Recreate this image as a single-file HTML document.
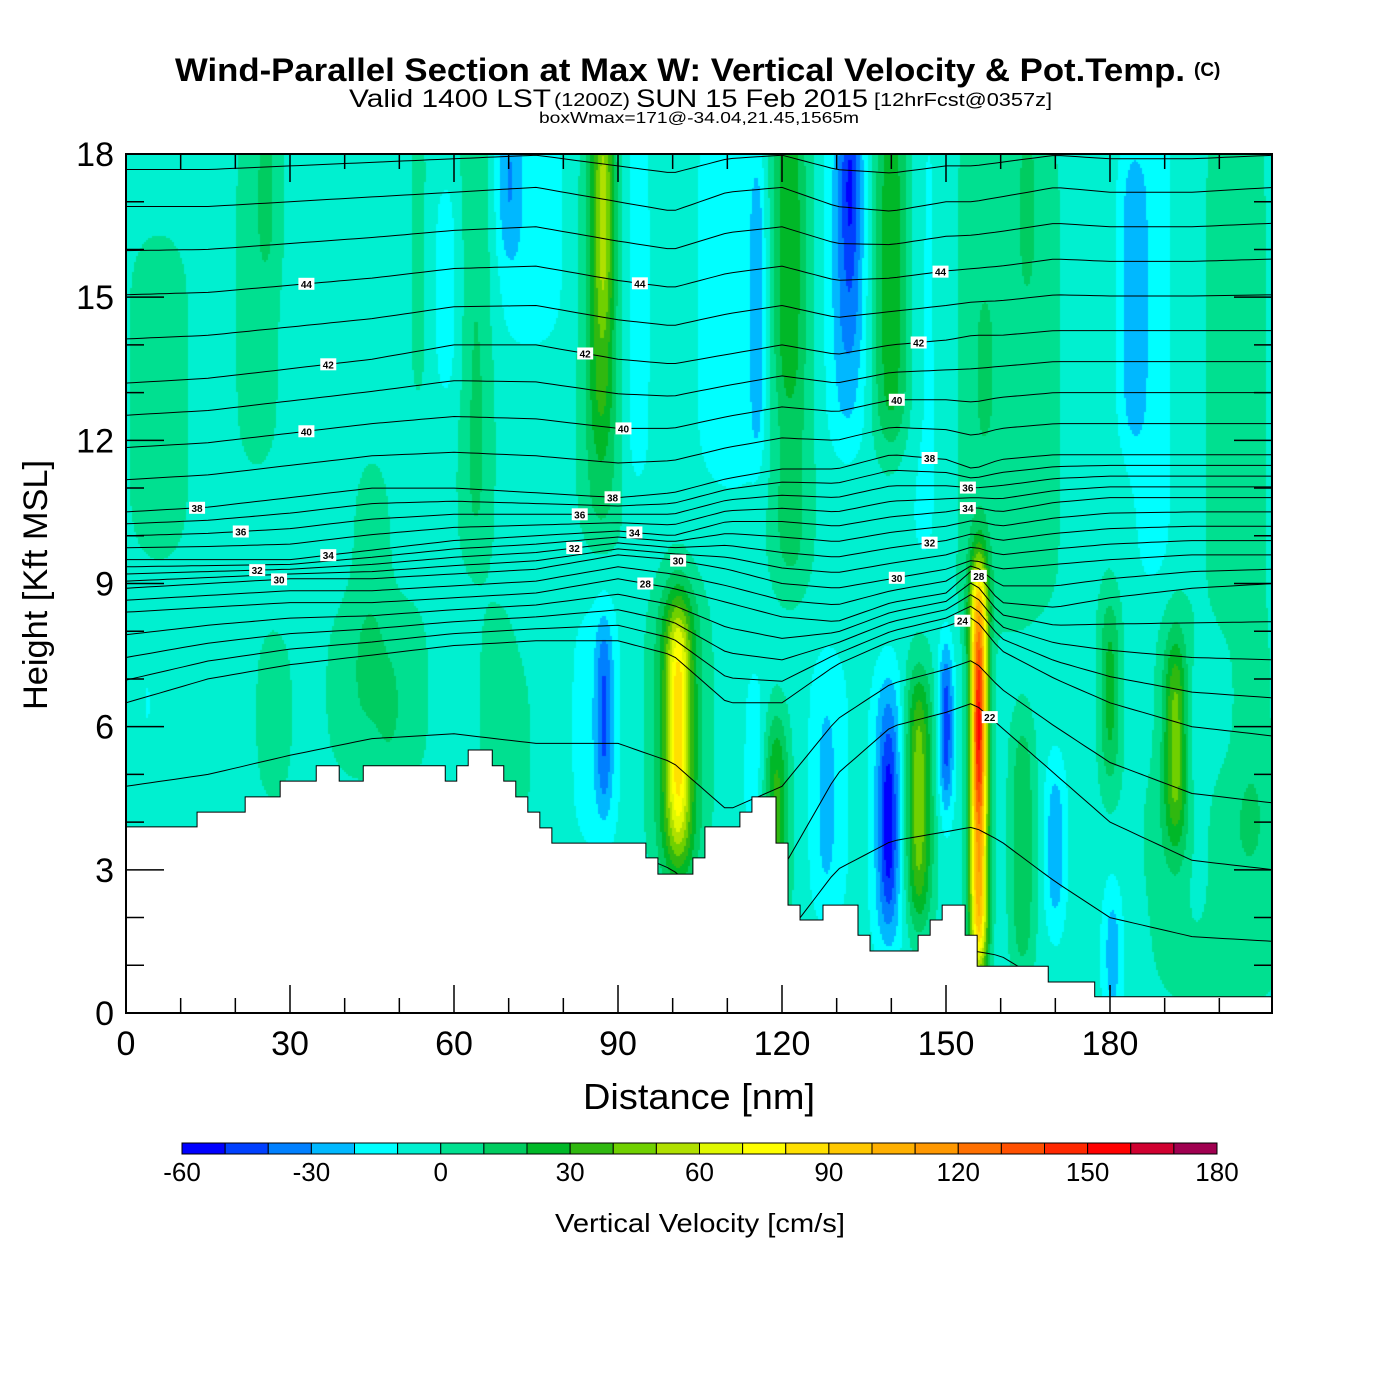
<!DOCTYPE html>
<html><head><meta charset="utf-8">
<style>
html,body{margin:0;padding:0;background:#fff;}
#wrap{position:relative;width:1400px;height:1400px;overflow:hidden;background:#fff;}
#field{position:absolute;left:126px;top:154px;}
#over{position:absolute;left:0;top:0;}
text{font-family:"Liberation Sans",Arial,sans-serif;}
</style></head>
<body>
<div id="wrap">
<canvas id="field" width="1146" height="859"></canvas>
<svg id="over" width="1400" height="1400" xmlns="http://www.w3.org/2000/svg">
  <g id="contours"></g>
  <g id="terrain"></g>
  <g id="clabels"></g>
  <rect x="126" y="154" width="1146" height="859" fill="none" stroke="#000" stroke-width="2"/>
  <g id="ticks"></g>
  <g id="xlabels"></g>
  <g id="ylabels"></g>
  <text x="680" y="81" font-size="32" font-weight="bold" text-anchor="middle" textLength="1010" lengthAdjust="spacingAndGlyphs">Wind-Parallel Section at Max W: Vertical Velocity &amp; Pot.Temp.</text>
  <text x="1194" y="76" font-size="19" font-weight="bold">(C)</text>
  <text x="349" y="107" font-size="25" textLength="202" lengthAdjust="spacingAndGlyphs">Valid 1400 LST</text>
  <text x="554" y="106" font-size="18" textLength="76" lengthAdjust="spacingAndGlyphs">(1200Z)</text>
  <text x="636" y="107" font-size="25" textLength="232" lengthAdjust="spacingAndGlyphs">SUN 15 Feb 2015</text>
  <text x="874" y="106" font-size="18" textLength="178" lengthAdjust="spacingAndGlyphs">[12hrFcst@0357z]</text>
  <text x="699" y="123" font-size="16" text-anchor="middle" textLength="320" lengthAdjust="spacingAndGlyphs">boxWmax=171@-34.04,21.45,1565m</text>
  <text x="699" y="1109" font-size="36" text-anchor="middle" textLength="232" lengthAdjust="spacingAndGlyphs">Distance [nm]</text>
  <text transform="translate(47,585) rotate(-90)" font-size="34" text-anchor="middle" textLength="250" lengthAdjust="spacingAndGlyphs">Height [Kft MSL]</text>
  <g id="cbar"></g>
  <text x="700" y="1232" font-size="26" text-anchor="middle" textLength="290" lengthAdjust="spacingAndGlyphs">Vertical Velocity [cm/s]</text>
</svg>
</div>
<script>
// ---------------- data ----------------
const xTicks = [0,30,60,90,120,150,180];
const yTicks = [0,3,6,9,12,15,18];
const cbarTicks = [-60,-30,0,30,60,90,120,150,180];
const binColors = ["#0000ff","#0040ff","#0080ff","#00b8ff","#00ffff","#00f0d0","#00e090","#00cc60","#00b828","#30b810","#70d000","#b0e000","#e0f800","#ffff00","#ffe000","#ffc800","#ffb000","#ff9800","#ff7000","#ff5000","#ff2800","#ff0000","#d00030","#a00050"];
const binMin = -60, binStep = 10;
const bgW = -5;
// vertical-velocity features (nm, nm, kft, kft, cm/s)
const featX   = [24,26,6,45,53.5,64,59,74,70,87,87,87.5,93,111,115.5,121.5,121,132,132.5,132.5,140,146.5,160,157,165,184,188,203,
                 156,156,139.5,139.5,150,145,145,119,115,128.5,128,164,170,180.5,180,192,192,196,200,101,101,101,87.5,86,68,72,42,48,27,4,206,52];
const featW   = [4.5,2.3,6.5,3.9,1.6,3.2,2.9,7.8,2.3,3.9,2.3,1.6,3.2,7.8,1.3,3.9,2.6,3.9,2.6,1.6,3.6,4.5,13,2,2,2.6,3.9,6.5,
                 1.7,1.1,2.8,1.6,1.4,2.6,1.3,2.3,2,3.9,1.6,2.3,2,2,2,2,3.9,2.6,15,3.2,1.8,5.8,1.6,5.2,3.9,2.6,6.5,2.3,3.9,0.8,3.9,4];
const featH0  = [11.5,15.5,9.5,6,13,9.5,12.9,14,16,10,12.2,14.7,11,11,12,9,13.2,12,14,16,12,9,8,12,15,12,9,8,
                 1,4.5,1.5,2.5,4.5,2,3,2,3,2,3,1,2,0,5,4,3,2,0,3,4,3,4.5,3.5,4,4,5,5.3,4.5,6,3,5];
const featH1  = [19,19,16.3,11.5,19,19,17.4,19,19,19,19,19,19,19,17.5,19,19,19,19,19,19,19,19,15,19,18,19,19,
                 9.3,7.5,7,5.5,7.5,7,6,6,7,7.5,6,6,5,2.5,8.5,7.5,8.5,7,5,8.7,8,8.8,8,8.5,8.5,7,8.5,7,8,7,8,8.5];
const featAmp = [10,10,10,10,10,17,-10,-10,-20,22,20,20,-10,-10,-20,22,15,-20,-15,-15,32,-10,10,10,10,-20,-10,10,
                 115,45,-30,-25,-45,45,10,40,-12,-12,-10,25,-25,-25,30,40,12,-10,10,45,35,15,-30,-10,10,8,10,10,10,-10,10,10];
// terrain step segments
const terrStart = [0,13,21.8,28.2,34.8,39,43.4,58.4,60.5,62.6,67,69.1,71.3,73.5,75.7,77.9,95.1,97.3,103.7,105.9,112.3,114.5,118.9,121.1,123.3,127.5,133.9,136.1,144.9,147.1,149.3,153.5,155.7,168.7,177.2];
const terrHgt   = [3.90,4.21,4.53,4.86,5.18,4.86,5.18,4.86,5.18,5.51,5.18,4.86,4.53,4.21,3.88,3.56,3.25,2.91,3.25,3.90,4.21,4.53,3.56,2.26,1.95,2.26,1.63,1.30,1.63,1.95,2.26,1.63,0.98,0.65,0.34];
// potential temperature contour anchors (height in kft per anchor column)
const thAnchorX = [0,15,30,45,60,75,90,100,110,120,130,140,150,155,160,170,180,195,210];
const thLevels = [20,22,24,28,30,34,38,42,46,50];
const thL20 = [-2,-2,-2,-2,-2,-2,-2,-2,-1,0,1,1.2,1.3,1.3,1.2,0.5,0,0,0];
const thL22 = [3,3,3.5,4,4,3.5,3.5,3,2,3,5,6,6.3,6.5,6.0,5.0,4.0,3.2,3.0];
const thL24 = [6.5,7,7.3,7.5,7.7,7.8,7.8,7.5,6.5,6.5,7.3,7.8,8.1,8.3,7.6,7.0,6.5,6.0,5.8];
const thL28 = [8.4,8.5,8.6,8.6,8.7,8.8,9.1,8.9,8.6,8.3,8.2,8.6,8.8,9.3,8.6,8.5,8.7,8.9,9.0];
const thL30 = [8.9,9.0,9.1,9.1,9.2,9.3,9.6,9.5,9.3,9.0,8.9,9.1,9.3,9.5,9.3,9.4,9.5,9.6,9.6];
const thL34 = [9.5,9.5,9.5,9.7,9.9,10.0,10.1,10.0,10.3,10.3,10.2,10.4,10.5,10.6,10.5,10.7,10.8,10.8,10.8];
const thL38 = [10.5,10.6,10.8,11.0,11.0,10.9,10.8,10.9,11.2,11.4,11.4,11.7,11.6,11.4,11.6,11.7,11.7,11.7,11.7];
const thL42 = [13.2,13.3,13.5,13.7,14.0,14.0,13.7,13.6,13.8,14.0,13.8,14.0,14.1,14.2,14.2,14.3,14.3,14.3,14.3];
const thL46 = [16.9,16.9,17.0,17.1,17.2,17.3,17.0,16.8,17.2,17.3,16.9,16.8,17.0,17.0,17.1,17.3,17.2,17.2,17.3];
const thL50 = [20,20,20,20,20,20,20,20,20,20,20,20,20,20,20,20,20,20,20];
const labelLvl = [44,42,40,38,36,34,32,30,44,42,40,38,36,34,32,30,28,44,42,40,38,36,34,32,30,28,24,22];
const labelX   = [33,37,33,13,21,37,24,28,94,84,91,89,83,93,82,101,95,149,145,141,147,154,154,147,141,156,153,158];

// ---------------- axes ----------------
const PX0=126, PX1=1272, PY0=154, PY1=1013;
const xs = nm => PX0 + nm*(164/30);
const ys = k => PY1 - k*((PY1-PY0)/18);
const NS='http://www.w3.org/2000/svg';
function mk(tag, attrs, parent){const e=document.createElementNS(NS,tag);for(const k in attrs)e.setAttribute(k,attrs[k]);parent.appendChild(e);return e;}

// ---------------- field ----------------
function sig(z){return 1/(1+Math.exp(-z));}
function wAt(x,h){
  let v=bgW;
  for(let i=0;i<featX.length;i++){
    const dx=(x-featX[i])/featW[i];
    if(dx>3||dx<-3) continue;
    const gx=Math.exp(-dx*dx);
    const gh=sig((h-featH0[i])/0.45)*sig((featH1[i]-h)/0.45);
    v+=featAmp[i]*gx*gh;
  }
  return v;
}
function colorOf(v){
  let b=Math.floor((v-binMin)/binStep);
  if(b<0)b=0; if(b>=binColors.length)b=binColors.length-1;
  return binColors[b];
}
(function(){
  const c=document.getElementById('field').getContext('2d');
  const W=1146,H=859,step=2;
  for(let py=0;py<H;py+=step){
    const h=(H-(py+1))/(H/18);
    for(let px=0;px<W;px+=step){
      const x=(px+1)/(164/30);
      c.fillStyle=colorOf(wAt(x,h));
      c.fillRect(px,py,step,step);
    }
  }
})();

// ---------------- theta contours ----------------
const thAnch=[thL20,thL22,thL24,thL28,thL30,thL34,thL38,thL42,thL46,thL50];
function levelH(L,j){
  for(let k=0;k<thLevels.length-1;k++){
    if(L>=thLevels[k]&&L<=thLevels[k+1]){
      const t=(L-thLevels[k])/(thLevels[k+1]-thLevels[k]);
      return thAnch[k][j]*(1-t)+thAnch[k+1][j]*t;
    }
  }
  return 20;
}
function levelHx(L,x){
  for(let j=0;j<thAnchorX.length-1;j++){
    if(x>=thAnchorX[j]&&x<=thAnchorX[j+1]){
      const t=(x-thAnchorX[j])/(thAnchorX[j+1]-thAnchorX[j]);
      return levelH(L,j)*(1-t)+levelH(L,j+1)*t;
    }
  }
  return levelH(L,thAnchorX.length-1);
}
(function(){
  const g=document.getElementById('contours');
  const defs=mk('defs',{},g);
  const cp=mk('clipPath',{id:'pc'},defs);
  mk('rect',{x:PX0,y:PY0,width:PX1-PX0,height:PY1-PY0},cp);
  const gg=mk('g',{'clip-path':'url(#pc)'},g);
  for(let L=20;L<=48;L++){
    let d='';
    for(let x=0;x<=210;x+=1.5){
      const h=levelHx(L,x);
      d+=(d?'L':'M')+xs(x).toFixed(1)+','+ys(h).toFixed(1);
    }
    const p=mk('path',{d:d,fill:'none',stroke:'#000','stroke-width':1},gg);
    
    
  }
  const lg=document.getElementById('clabels');
  for(let i=0;i<labelLvl.length;i++){
    const x=xs(labelX[i]), y=ys(levelHx(labelLvl[i],labelX[i]));
    const r=mk('rect',{x:x-8,y:y-6,width:16,height:12,fill:'#fff'},lg);
    
    
    const t=mk('text',{x:x,y:y+4,'font-size':10,'text-anchor':'middle','font-weight':'bold'},lg);
    
    
    t.textContent=labelLvl[i];
  }
})();

// ---------------- terrain ----------------
(function(){
  const g=document.getElementById('terrain');
  let d='M'+xs(0)+','+ys(0);
  let outline='';
  for(let i=0;i<terrStart.length;i++){
    const x0=xs(terrStart[i]);
    const x1=i<terrStart.length-1?xs(terrStart[i+1]):PX1;
    const y=ys(terrHgt[i]);
    d+='L'+x0+','+y+'L'+x1+','+y;
    outline+=(outline?'L':'M')+x0+','+y+'L'+x1+','+y;
  }
  d+='L'+PX1+','+ys(0)+'Z';
  const p=mk('path',{d:d,fill:'#fff',stroke:'none'},g);
  
  
  const o=mk('path',{d:outline,fill:'none',stroke:'#000','stroke-width':1},g);
  
  
})();

// ---------------- ticks & labels ----------------
(function(){
  const g=document.getElementById('ticks');
  let d='';
  for(let x=0;x<=210;x+=10){
    const px=xs(x); if(px>PX1)break;
    const major=(x%30===0);
    const len=major?28:15;
    d+='M'+px+','+PY1+'V'+(PY1-len)+'M'+px+','+PY0+'V'+(PY0+len);
  }
  for(let k=0;k<=18;k++){
    const py=ys(k);
    const major=(k%3===0);
    const len=major?38:18;
    d+='M'+PX0+','+py+'H'+(PX0+len)+'M'+PX1+','+py+'H'+(PX1-len);
  }
  mk('path',{d:d,stroke:'#000','stroke-width':1.5,fill:'none'},g);
  const xl=document.getElementById('xlabels');
  xTicks.forEach(v=>{
    const t=mk('text',{x:xs(v),y:1055,'font-size':34,'text-anchor':'middle'},xl);
    
    
    t.textContent=v;
  });
  const yl=document.getElementById('ylabels');
  yTicks.forEach(v=>{
    const t=mk('text',{x:114,y:ys(v)+12,'font-size':34,'text-anchor':'end'},yl);
    
    
    t.textContent=v;
  });
})();

// ---------------- colorbar ----------------
(function(){
  const g=document.getElementById('cbar');
  const x0=182,x1=1217,y0=1143,hh=11;
  const bw=(x1-x0)/binColors.length;
  binColors.forEach((c,i)=>{
    const r=mk('rect',{x:x0+i*bw,y:y0,width:bw,height:hh,fill:c,stroke:'#000','stroke-width':1},g);
    
    
  });
  cbarTicks.forEach(v=>{
    const t=mk('text',{x:x0+(v-binMin)/binStep*bw,y:1181,'font-size':26,'text-anchor':'middle'},g);
    
    
    t.textContent=v;
  });
})();
</script>
</body></html>
